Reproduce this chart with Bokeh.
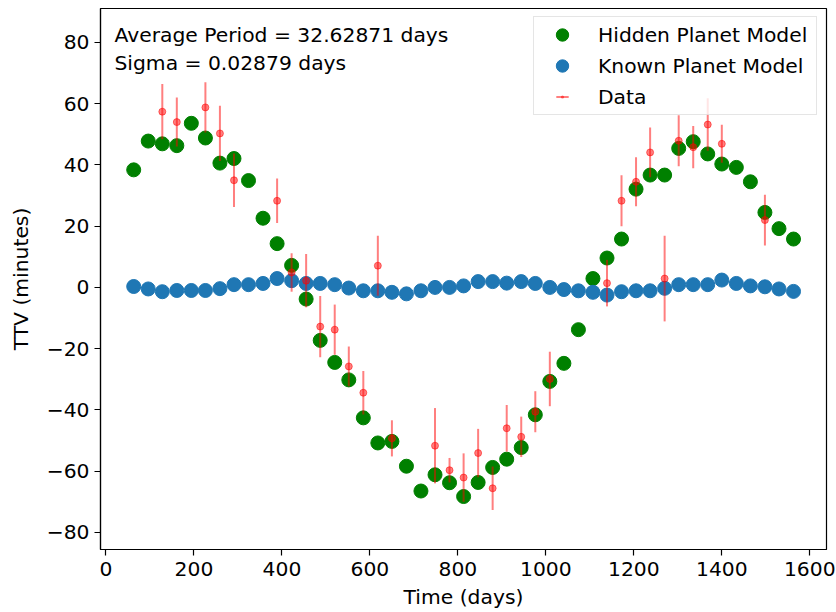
from bokeh.plotting import figure
from bokeh.models import (Range1d, FixedTicker, CustomJSTickFormatter, Legend,
                          LegendItem, Label, ColumnDataSource)
from bokeh.embed import file_html
from bokeh.resources import INLINE
import numpy as np

# ---------------- data ----------------
model_time = [63, 96, 128, 161, 194, 226, 259, 291, 324, 357, 389, 422, 455, 487,
              520, 552, 585, 618, 650, 683, 716, 748, 781, 813, 846, 879, 911, 944,
              976, 1009, 1041, 1074, 1107, 1139, 1172, 1205, 1237, 1270, 1302, 1335,
              1368, 1400, 1433, 1465, 1498, 1530, 1563]

hidden_ttv = [38.4, 47.8, 46.9, 46.3, 53.6, 48.8, 40.6, 42.1, 34.9, 22.6, 14.3, 7.2,
              -3.8, -17.3, -24.5, -30.2, -42.6, -50.8, -50.3, -58.4, -66.5, -61.2,
              -63.8, -68.3, -63.7, -58.8, -56.1, -52.3, -41.6, -30.7, -24.8, -13.8,
              2.9, 9.6, 15.8, 32.1, 36.7, 36.7, 45.4, 47.6, 43.6, 40.3, 39.2, 34.5,
              24.5, 19.2, 15.8]

known_ttv = [0.3, -0.5, -1.4, -1.0, -1.0, -1.0, -0.4, 0.9, 0.9, 1.3, 2.9, 2.2, 1.3,
             1.3, 0.9, -0.2, -1.1, -1.1, -1.6, -2.1, -1.1, 0.0, 0.0, 0.5, 1.9, 1.9,
             1.4, 1.9, 1.3, 0.0, -0.7, -1.1, -1.6, -2.5, -1.4, -1.1, -1.1, -0.3, 0.9,
             0.9, 0.9, 2.4, 1.3, 0.5, 0.2, -0.5, -1.3]

data_time = [128, 161, 226, 259, 291, 389, 422, 455, 487, 520, 552, 585, 618, 650,
             748, 781, 813, 846, 879, 911, 944, 976, 1009, 1139, 1172, 1205, 1237,
             1270, 1302, 1335, 1368, 1400, 1498]
data_ttv = [57.4, 54.0, 58.8, 50.3, 35.0, 28.3, 4.9, 2.2, -12.8, -13.8, -25.8, -34.4,
            7.1, -49.3, -51.7, -59.7, -62.1, -54.1, -65.6, -46.0, -48.8, -40.6, -29.9,
            1.4, 28.3, 34.5, 44.1, 2.9, 47.9, 45.8, 53.2, 46.9, 22.0]
data_err = [9.0, 8.0, 8.2, 9.0, 8.7, 7.3, 6.3, 8.7, 10.0, 8.2, 6.5, 7.1, 9.8, 5.9,
            12.3, 4.0, 7.9, 7.9, 7.1, 7.6, 6.6, 6.7, 8.9, 7.6, 8.3, 8.0, 8.1, 14.0,
            8.3, 6.9, 8.6, 6.2, 8.3]

x_ticks = [0, 200, 400, 600, 800, 1000, 1200, 1400, 1600]
y_ticks = [-80, -60, -40, -20, 0, 20, 40, 60, 80]

period_text = "Average Period = 32.62871 days"
sigma_text = "Sigma = 0.02879 days"

# ---------------- styling ----------------
FONT = "DejaVu Sans"
FS = "20.3px"

p = figure(width=836, height=612, output_backend="svg", toolbar_location=None,
           x_range=Range1d(-12.5, 1638), y_range=Range1d(-85.6, 91.1),
           min_border_left=100, min_border_right=10, min_border_top=8,
           min_border_bottom=63, background_fill_color="white",
           border_fill_color="white")

p.xgrid.visible = False
p.ygrid.visible = False
p.outline_line_color = "black"
p.outline_line_width = 1.2

for ax in (p.xaxis[0], p.yaxis[0]):
    ax.major_label_text_font = FONT
    ax.major_label_text_font_size = FS
    ax.major_label_text_color = "black"
    ax.axis_label_text_font = FONT
    ax.axis_label_text_font_size = FS
    ax.axis_label_text_font_style = "normal"
    ax.axis_label_text_color = "black"
    ax.major_tick_out = 6
    ax.major_tick_in = 0
    ax.minor_tick_line_color = None
    ax.axis_line_width = 1.2
    ax.major_tick_line_width = 1.2
    ax.axis_line_color = "black"
    ax.major_tick_line_color = "black"

p.xaxis.ticker = FixedTicker(ticks=x_ticks)
p.yaxis.ticker = FixedTicker(ticks=y_ticks)
p.yaxis.formatter = CustomJSTickFormatter(
    code="return tick < 0 ? '\\u2212' + Math.abs(tick) : String(tick);")
p.xaxis.axis_label = "Time (days)"
p.yaxis.axis_label = "TTV (minutes)"
p.xaxis.major_label_standoff = 6
p.yaxis.major_label_standoff = 5
p.xaxis.axis_label_standoff = 6
p.yaxis.axis_label_standoff = 11

# ---------------- glyphs ----------------
g_hidden = p.scatter(model_time, hidden_ttv, size=14, color="green")
g_known = p.scatter(model_time, known_ttv, size=14, color="#1f77b4")

src = ColumnDataSource(dict(
    t=data_time, y=data_ttv,
    lo=[v - e for v, e in zip(data_ttv, data_err)],
    hi=[v + e for v, e in zip(data_ttv, data_err)],
))
g_bars = p.segment(x0="t", y0="lo", x1="t", y1="hi", source=src,
                   line_color="red", line_alpha=0.5, line_width=2)
g_dots = p.scatter("t", "y", source=src, size=7, color="red", alpha=0.5)

# legend-only proxies (zero size in the plot) for the error-bar symbol
g_bar_proxy = p.scatter("t", "y", source=src, marker="dash", angle=np.pi / 2,
                        size=0, line_color="red", line_alpha=0.5, line_width=2)
g_dot_proxy = p.scatter("t", "y", source=src, marker="dot", size=0,
                        line_color="red", line_alpha=0.5, line_width=2,
                        fill_color="red", fill_alpha=0.5)

legend = Legend(items=[
    LegendItem(label="Hidden Planet Model", renderers=[g_hidden]),
    LegendItem(label="Known Planet Model", renderers=[g_known]),
    LegendItem(label="Data", renderers=[g_bar_proxy, g_dot_proxy]),
], location=(433, 434))
legend.label_text_font = FONT
legend.label_text_font_size = FS
legend.label_text_color = "black"
legend.label_text_baseline = "middle"
legend.padding = 2
legend.glyph_width = 52
legend.glyph_height = 31
legend.spacing = 0
legend.label_standoff = 10
legend.label_width = 216
legend.border_line_color = "#cccccc"
legend.border_line_width = 1
legend.background_fill_color = "white"
legend.background_fill_alpha = 0.8
legend.margin = 0
p.add_layout(legend)

for txt, yy in ((period_text, 82.6), (sigma_text, 73.4)):
    p.add_layout(Label(x=19.3, y=yy, text=txt, text_font=FONT, text_font_size=FS,
                       text_color="black", text_baseline="alphabetic",
                       text_align="left"))

open("out.html", "w").write(file_html(p, INLINE))
